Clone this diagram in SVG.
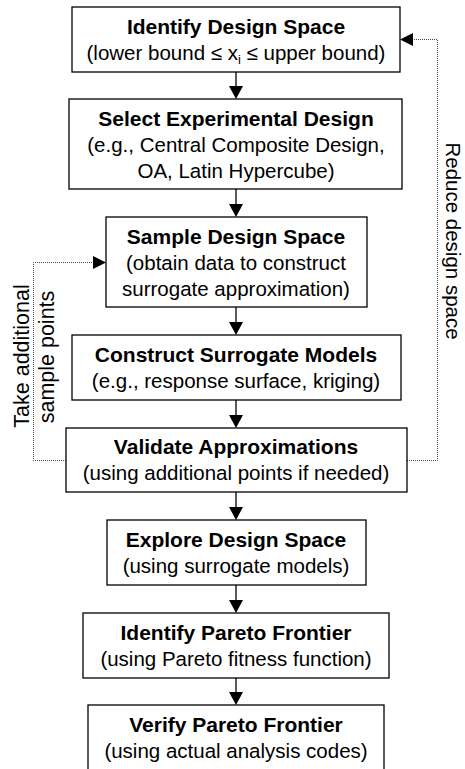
<svg xmlns="http://www.w3.org/2000/svg" width="465" height="769" viewBox="0 0 465 769">
<defs>
<style>
.box{fill:#fff;stroke:#000;stroke-width:1.3}
.t{font-family:"Liberation Sans",Arial,sans-serif;font-size:20.5px;fill:#000;text-anchor:middle}
.b{font-weight:bold;font-size:21px}
.lab{font-size:21.5px}
.flow{stroke:#000;stroke-width:1.3;fill:none}
.loop{stroke:#444;stroke-width:1;fill:none;stroke-dasharray:1 1}
.head{fill:#000;stroke:none}
</style>
</defs>
<rect width="465" height="769" fill="#fff"/>
<g id="connectors">
<line class="flow" x1="236" y1="72" x2="236" y2="87"/><polygon class="head" points="229,86 243,86 236,99"/>
<line class="flow" x1="236" y1="189" x2="236" y2="205"/><polygon class="head" points="229,204 243,204 236,217"/>
<line class="flow" x1="236" y1="307" x2="236" y2="323"/><polygon class="head" points="229,322 243,322 236,335"/>
<line class="flow" x1="236" y1="400" x2="236" y2="416"/><polygon class="head" points="229,415 243,415 236,428"/>
<line class="flow" x1="236" y1="492" x2="236" y2="508"/><polygon class="head" points="229,507 243,507 236,520"/>
<line class="flow" x1="236" y1="585" x2="236" y2="601"/><polygon class="head" points="229,600 243,600 236,613"/>
<line class="flow" x1="236" y1="678" x2="236" y2="693"/><polygon class="head" points="229,692 243,692 236,705"/>
<path class="loop" d="M407,460.5 H437.5 V39.5 H413"/><polygon class="head" points="413,33 413,46 400,39.5"/>
<path class="loop" d="M66,460.5 H33.5 V262.5 H93"/><polygon class="head" points="93,256 93,269 106,262.5"/>
<text class="t" transform="translate(446,241) rotate(90)">Reduce design space</text>
<text class="t lab" transform="translate(29,356) rotate(-90)">Take additional</text>
<text class="t lab" transform="translate(54,357) rotate(-90)">sample points</text>
</g>
<g id="n1">
<rect class="box" x="72" y="7" width="328" height="65"/>
<text class="t b" x="236" y="34">Identify Design Space</text>
<text class="t" x="236" y="60">(lower bound ≤ x<tspan font-size="13" dy="4">i</tspan><tspan dy="-4"> ≤ upper bound)</tspan></text>
</g>
<g id="n2">
<rect class="box" x="69" y="99" width="333" height="90"/>
<text class="t b" x="236" y="126">Select Experimental Design</text>
<text class="t" x="236" y="152">(e.g., Central Composite Design,</text>
<text class="t" x="236" y="178">OA, Latin Hypercube)</text>
</g>
<g id="n3">
<rect class="box" x="106" y="217" width="261" height="90"/>
<text class="t b" x="236" y="244">Sample Design Space</text>
<text class="t" x="236" y="270">(obtain data to construct</text>
<text class="t" x="236" y="296">surrogate approximation)</text>
</g>
<g id="n4">
<rect class="box" x="72" y="335" width="329" height="65"/>
<text class="t b" x="236" y="362">Construct Surrogate Models</text>
<text class="t" x="236" y="388">(e.g., response surface, kriging)</text>
</g>
<g id="n5">
<rect class="box" x="66" y="428" width="341" height="64"/>
<text class="t b" x="236" y="454">Validate Approximations</text>
<text class="t" x="236" y="480">(using additional points if needed)</text>
</g>
<g id="n6">
<rect class="box" x="107" y="520" width="259" height="65"/>
<text class="t b" x="236" y="547">Explore Design Space</text>
<text class="t" x="236" y="573">(using surrogate models)</text>
</g>
<g id="n7">
<rect class="box" x="83" y="613" width="306" height="65"/>
<text class="t b" x="236" y="640">Identify Pareto Frontier</text>
<text class="t" x="236" y="666">(using Pareto fitness function)</text>
</g>
<g id="n8">
<rect class="box" x="88" y="705" width="296" height="80"/>
<text class="t b" x="236" y="732">Verify Pareto Frontier</text>
<text class="t" x="236" y="758">(using actual analysis codes)</text>
</g>
</svg>
